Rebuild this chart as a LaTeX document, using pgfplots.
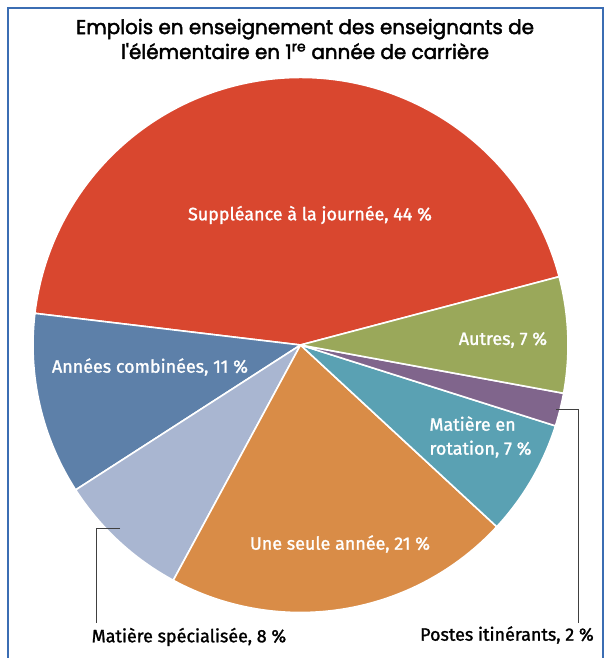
\documentclass[border=0pt]{standalone}
\usepackage{pgfplots}
\usepackage{pgfplotstable}
\pgfplotsset{compat=1.18}
\usepackage{fontspec}
\setmainfont{Fira Sans}
\newfontfamily\firamed{Fira Sans}[FakeBold=1.4]
\newfontfamily\titlefont{Poppins}[FakeBold=2.2]
\definecolor{pRed}{HTML}{D9472F}
\definecolor{pBlue}{HTML}{5D80A9}
\definecolor{pLight}{HTML}{A9B6D1}
\definecolor{pOrange}{HTML}{D98C47}
\definecolor{pTeal}{HTML}{5AA1B3}
\definecolor{pPurple}{HTML}{80658C}
\definecolor{pGreen}{HTML}{9AA85A}
\definecolor{frameBlue}{HTML}{3B6DB3}
\pgfplotstableread{
slice value color
suppleance 44 pRed
combinees 11 pBlue
specialisee 8 pLight
seule 21 pOrange
rotation 7 pTeal
itinerants 2 pPurple
autres 7 pGreen
}\piedata
\begin{document}
\begin{tikzpicture}
\begin{axis}[
  at={(0,0)}, anchor=south west,
  x=1bp, y=1bp,
  xmin=0, xmax=610, ymin=0, ymax=658,
  hide axis, clip=false,
]
% pie slices from the data table
\pgfplotstablegetrowsof{\piedata}
\pgfmathtruncatemacro{\N}{\pgfplotsretval-1}
\xdef\cum{14.8}
\pgfplotsforeachungrouped \i in {0,...,\N}{%
  \pgfplotstablegetelem{\i}{value}\of\piedata
  \pgfmathsetmacro{\endang}{\cum+3.6*\pgfplotsretval}%
  \pgfplotstablegetelem{\i}{color}\of\piedata
  \edef\cmd{\noexpand\fill[\pgfplotsretval, draw=white, line width=1.6bp, line join=round]
    (axis cs:300.5,313) -- ++(\cum:267.5bp) arc[start angle=\cum, end angle=\endang, radius=267.5bp] -- cycle;}%
  \cmd
  \xdef\cum{\endang}%
}
% title
\node[font=\titlefont\fontsize{20}{25}\selectfont, align=center, text=black] at (axis cs:305,619)
  {Emplois en enseignement des enseignants de\\l'élémentaire en 1\textsuperscript{re} année de carrière};
% inside labels
\begin{scope}[every node/.style={text=white, font=\firamed\fontsize{18}{24}\selectfont}]
\node at (axis cs:310,443) {Suppléance à la journée, 44 \%};
\node at (axis cs:150,291) {Années combinées, 11 \%};
\node at (axis cs:503,318) {Autres, 7 \%};
\node[anchor=west, align=left] at (axis cs:426,221) {Matière en\\rotation, 7 \%};
\node at (axis cs:340,114) {Une seule année, 21 \%};
\end{scope}
% outside labels with leaders
\draw[black!75, line width=1bp] (axis cs:120,129) -- (axis cs:96,129) -- (axis cs:96,35);
\draw[black!75, line width=1bp] (axis cs:556,248) -- (axis cs:578,248) -- (axis cs:578,35);
\node[font=\firamed\fontsize{18}{20}\selectfont, text=black] at (axis cs:189,21) {Matière spécialisée, 8 \%};
\node[font=\firamed\fontsize{18}{20}\selectfont, text=black] at (axis cs:507,23) {Postes itinérants, 2 \%};
\end{axis}
% frame
\draw[frameBlue, line width=1.3bp] (8bp,0) -- (8bp,650bp) -- (603bp,650bp) -- (603bp,0);
\pgfresetboundingbox
\useasboundingbox (0,0) rectangle (610bp,658bp);
\end{tikzpicture}
\end{document}
